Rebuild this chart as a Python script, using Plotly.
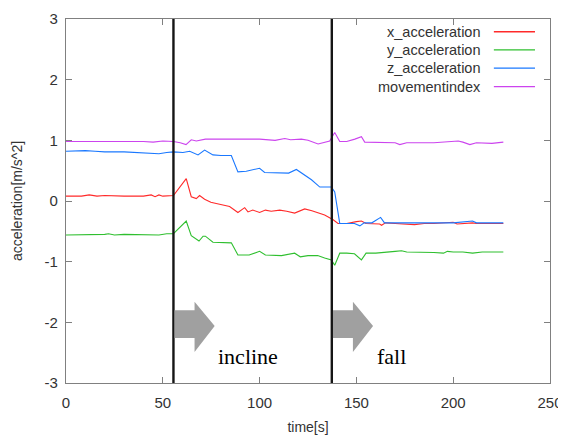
import plotly.graph_objects as go

# ---- data ----
t_move = [0, 10, 20, 30, 40, 45, 50, 55.5, 59, 62, 64.7, 67.3, 72, 80, 90, 100, 108, 113, 116, 121.6,
          125, 130.2, 136.2, 138.8, 141.4, 145, 149.2, 152.6, 154.3, 160, 170, 172.4, 176, 190, 202.6,
          205, 208.6, 212, 220, 225.9]
movementindex = [0.98, 0.98, 0.99, 0.98, 0.98, 0.97, 0.99, 0.98, 0.96, 0.93, 1.01, 0.99, 1.02, 1.02, 1.02,
                 1.02, 1.00, 1.03, 1.01, 1.02, 1.00, 0.94, 0.99, 1.13, 0.98, 0.98, 1.02, 1.06, 0.97, 0.97,
                 0.96, 0.93, 0.96, 0.96, 0.99, 0.97, 0.93, 0.96, 0.95, 0.97]

t_z = [0, 10, 15, 20, 30, 40, 45, 48, 52, 55.5, 60.4, 63.9, 68.2, 71.6, 75.9, 80, 85.4, 88.8, 93.1, 97.5,
       100, 102.6, 111.3, 115, 119, 123.3, 126.8, 131.1, 137.1, 138.8, 141.4, 145, 149, 151.8, 154, 158,
       162.5, 164.5, 180, 200, 210, 212, 225.9]
z_acceleration = [0.82, 0.83, 0.82, 0.81, 0.81, 0.80, 0.79, 0.78, 0.80, 0.81, 0.80, 0.82, 0.76, 0.84, 0.76,
                  0.75, 0.75, 0.48, 0.49, 0.52, 0.54, 0.47, 0.47, 0.46, 0.52, 0.43, 0.35, 0.23, 0.23, 0.15,
                  -0.37, -0.37, -0.37, -0.41, -0.36, -0.36, -0.27, -0.36, -0.36, -0.36, -0.33, -0.36, -0.36]

t_x = [0, 8, 12, 16, 20, 25, 30, 40, 44, 46, 48, 50, 55.5, 62.1, 64.7, 67.3, 69, 71.6, 74.8, 77.6, 84.5,
       88.8, 92.3, 94, 96.5, 100, 103, 106, 110.4, 114, 118.1, 123.3, 127, 133.6, 138, 140.5, 145, 150,
       152.6, 155, 162, 163, 165, 170, 180, 185, 190, 200, 202, 210, 212, 225.9]
x_acceleration = [0.08, 0.08, 0.10, 0.08, 0.09, 0.08, 0.08, 0.08, 0.10, 0.07, 0.10, 0.08, 0.09, 0.37, 0.07,
                  0.04, 0.09, 0.03, -0.02, -0.04, -0.09, -0.19, -0.11, -0.18, -0.15, -0.19, -0.15, -0.17,
                  -0.15, -0.17, -0.20, -0.13, -0.16, -0.23, -0.31, -0.37, -0.37, -0.34, -0.33, -0.37, -0.38,
                  -0.40, -0.36, -0.37, -0.39, -0.37, -0.37, -0.35, -0.38, -0.36, -0.37, -0.37]

t_y = [0, 10, 20, 22, 25, 30, 40, 48, 52, 55.5, 62.1, 64.7, 68.7, 70.8, 72, 75.9, 85.4, 88.8, 94.6, 100,
       103, 108, 111.3, 118.1, 121, 125, 130, 133.6, 137.1, 138.8, 141.4, 145, 149, 152.6, 155, 160, 165,
       170, 173.3, 176, 190, 195, 197, 200, 205, 210, 215, 225.9]
y_acceleration = [-0.56, -0.56, -0.55, -0.54, -0.56, -0.55, -0.55, -0.56, -0.54, -0.54, -0.33, -0.57, -0.66,
                  -0.58, -0.58, -0.68, -0.69, -0.89, -0.89, -0.83, -0.89, -0.89, -0.90, -0.86, -0.92, -0.90,
                  -0.90, -0.94, -0.97, -1.06, -0.86, -0.86, -0.87, -0.97, -0.86, -0.86, -0.84, -0.83, -0.82,
                  -0.84, -0.85, -0.86, -0.83, -0.84, -0.84, -0.86, -0.84, -0.84]

events = [55.5, 137.3]
event_labels = ["incline", "fall"]
event_label_x = [93.8, 168.0]

series_names = ["x_acceleration", "y_acceleration", "z_acceleration", "movementindex"]
series_colors = ["#ff2a2a", "#2fbf2f", "#1a78ff", "#cc44ee"]
series_t = [t_x, t_y, t_z, t_move]
series_v = [x_acceleration, y_acceleration, z_acceleration, movementindex]

x_ticks = [0, 50, 100, 150, 200, 250]
y_ticks = [-3, -2, -1, 0, 1, 2, 3]
y_ticktext = [str(v) for v in y_ticks]

fig = go.Figure()
for name, col, t, v in zip(series_names, series_colors, series_t, series_v):
    fig.add_trace(go.Scatter(x=t, y=v, mode="lines", name=name,
                             line=dict(color=col, width=1.1), showlegend=False))

shapes = []
annotations = []
# event lines
for e in events:
    shapes.append(dict(type="line", xref="x", yref="paper", x0=e, x1=e, y0=0, y1=1,
                       line=dict(color="#151515", width=2.4), layer="above"))
# block arrows
for e in events:
    a0 = e + 0.6
    a1 = e + 10.9
    a2 = e + 21.3
    path = (f"M {a0},-1.80 L {a1},-1.80 L {a1},-1.66 L {a2},-2.06 "
            f"L {a1},-2.49 L {a1},-2.26 L {a0},-2.26 Z")
    shapes.append(dict(type="path", xref="x", yref="y", path=path,
                       fillcolor="#a0a0a0", line=dict(width=0)))
for lbl, lx in zip(event_labels, event_label_x):
    annotations.append(dict(x=lx, y=-2.57, xref="x", yref="y", text=lbl, showarrow=False,
                            font=dict(family="Liberation Serif, Times New Roman, serif", size=22,
                                      color="#000")))

# manual gnuplot-style legend (text right-aligned, sample line on the right)
leg_y = [0.965, 0.915, 0.865, 0.814]
for name, col, ly in zip(series_names, series_colors, leg_y):
    annotations.append(dict(x=0.861, y=ly, xref="paper", yref="paper", text=name, showarrow=False,
                            xanchor="right", yanchor="middle",
                            font=dict(family="Liberation Sans, Arial, sans-serif", size=14.5,
                                      color="#333")))
    shapes.append(dict(type="line", xref="paper", yref="paper", x0=0.884, x1=0.969, y0=ly, y1=ly,
                       line=dict(color=col, width=1.3)))

axis_common = dict(showline=True, linecolor="#808080", linewidth=1.2, mirror="ticks",
                   ticks="inside", ticklen=6, tickcolor="#808080", showgrid=False, zeroline=False,
                   automargin=False,
                   tickfont=dict(family="Liberation Sans, Arial, sans-serif", size=15, color="#333"))

# the page adds an 8px body margin, so the figure is 8px smaller than the window
fig.update_layout(
    width=558, height=430,
    margin=dict(l=58, r=16, t=11, b=55),
    paper_bgcolor="white", plot_bgcolor="white",
    shapes=shapes, annotations=annotations,
    xaxis=dict(range=[0, 250], tickvals=x_ticks, ticktext=[str(v) for v in x_ticks],
               title=dict(text="time[s]", standoff=12,
                          font=dict(family="Liberation Sans, Arial, sans-serif", size=14,
                                    color="#333")),
               ticklabelstandoff=6, **axis_common),
    yaxis=dict(range=[-3, 3], tickvals=y_ticks, ticktext=y_ticktext,
               title=dict(text="acceleration[m/s^2]", standoff=18,
                          font=dict(family="Liberation Sans, Arial, sans-serif", size=14,
                                    color="#333")),
               ticklabelstandoff=4, **axis_common),
)

fig.write_html("out.html")
